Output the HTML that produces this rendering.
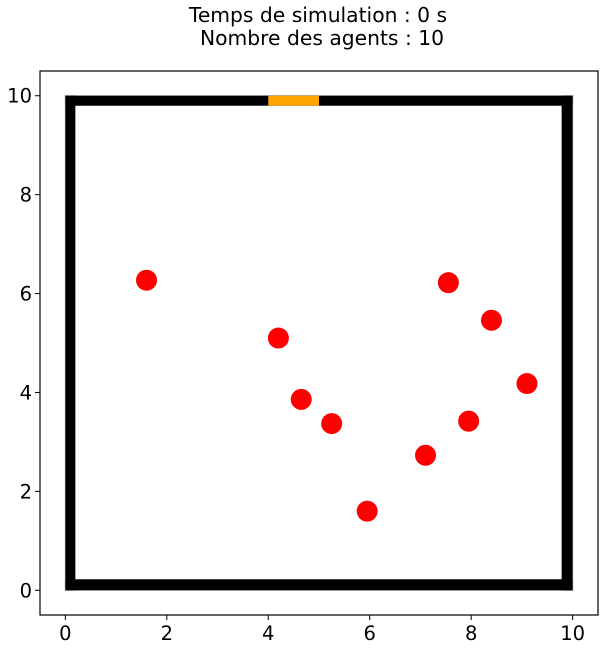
<!DOCTYPE html>
<html><head><meta charset="utf-8"><style>
html,body{margin:0;padding:0;background:#fff;}
svg{display:block;font-family:"DejaVu Sans","Liberation Sans",sans-serif;}
</style></head><body>
<svg id="chart" width="605" height="648" viewBox="0 0 605 648">
<text x="318" y="22" font-size="20.3" text-anchor="middle">Temps de simulation : 0 s</text>
<text x="322" y="45" font-size="20.3" text-anchor="middle">Nombre des agents : 10</text>
<g id="plot"></g>
</svg>
<script>
const agentX = [1.6, 4.2, 4.65, 5.25, 5.95, 7.1, 7.55, 7.95, 8.4, 9.1];
const agentY = [6.27, 5.1, 3.86, 3.37, 1.6, 2.73, 6.22, 3.42, 5.46, 4.18];
const xTicks = [0, 2, 4, 6, 8, 10];
const yTicks = [0, 2, 4, 6, 8, 10];
const doorStart = 4, doorEnd = 5;

const L = 40, R = 598, T = 71, B = 615;
const xmin = -0.5, xmax = 10.5, ymin = -0.5, ymax = 10.5;
const sx = v => L + (v - xmin) / (xmax - xmin) * (R - L);
const sy = v => B - (v - ymin) / (ymax - ymin) * (B - T);
const NS = "http://www.w3.org/2000/svg";
const g = document.getElementById('plot');
function mk(tag, attrs) { const e = document.createElementNS(NS, tag); for (const k in attrs) e.setAttribute(k, attrs[k]); g.appendChild(e); return e; }

let e;
e = mk('rect', {x: L, y: T, width: R - L, height: B - T, fill: '#fff', stroke: '#000', 'stroke-width': 1.2});



const x0 = sx(0), x1 = sx(10), y0 = sy(0), y1 = sy(10), th = 10;
e = mk('rect', {x: x0, y: y1, width: x1 - x0, height: y0 - y1, fill: 'none', stroke: '#ccc', 'stroke-width': 1.5});


e = mk('rect', {x: x0, y: y1, width: x1 - x0, height: th, fill: '#000'});


e = mk('rect', {x: x0, y: y0 - th - 1, width: x1 - x0, height: th + 1, fill: '#000'});


e = mk('rect', {x: x0, y: y1, width: th, height: y0 - y1, fill: '#000'});


e = mk('rect', {x: x1 - th - 1, y: y1, width: th + 1, height: y0 - y1, fill: '#000'});


e = mk('rect', {x: sx(doorStart), y: y1, width: sx(doorEnd) - sx(doorStart), height: th, fill: '#ffa500'});



agentX.forEach((v, i) => {
  const c = mk('circle', {cx: sx(v), cy: sy(agentY[i]), r: 10.5, fill: '#ff0000'});
  
  
});

xTicks.forEach(t => {
  const l = mk('line', {x1: sx(t), x2: sx(t), y1: B, y2: B + 5, stroke: '#000', 'stroke-width': 1});
  
  
  const tx = mk('text', {x: sx(t), y: B + 25, 'font-size': 19.5, 'text-anchor': 'middle', fill: '#000'});
  tx.textContent = t;
  
  
});
yTicks.forEach(t => {
  const l = mk('line', {x1: L - 5, x2: L, y1: sy(t), y2: sy(t), stroke: '#000', 'stroke-width': 1});
  
  
  const tx = mk('text', {x: L - 8, y: sy(t) + 7, 'font-size': 19.5, 'text-anchor': 'end', fill: '#000'});
  tx.textContent = t;
  
  
});
</script>
</body></html>
